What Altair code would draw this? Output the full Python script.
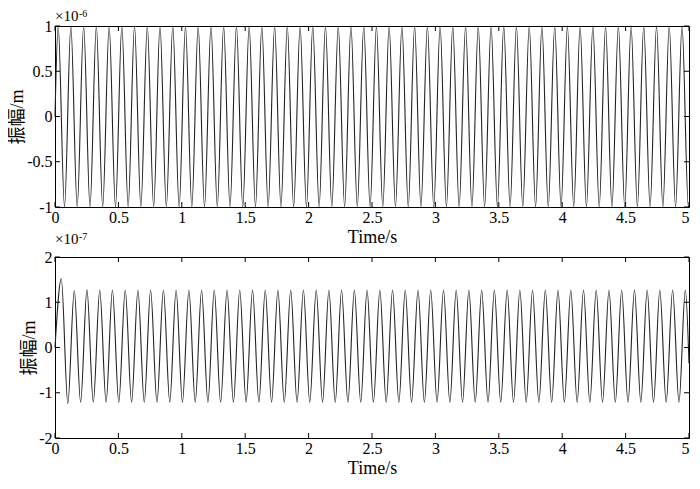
import altair as alt
import pandas as pd

# ---------------- data ----------------
x_ticks = [0, 0.5, 1, 1.5, 2, 2.5, 3, 3.5, 4, 4.5, 5]
top_y_ticks = [-1, -0.5, 0, 0.5, 1]
bot_y_ticks = [-2, -1, 0, 1, 2]
x_title = "Time/s"
y_title = "振幅/m"
top_exp = ["×10", "-6"]
bot_exp = ["×10", "-7"]

# top panel (units of 1e-6 m)
top_start = [0.0, 0.0]
top_end = [5.0, -0.99]
top_peak_t = [0.025, 0.125, 0.226, 0.326, 0.427, 0.527, 0.627, 0.728, 0.828, 0.929,
              1.029, 1.129, 1.230, 1.330, 1.431, 1.531, 1.631, 1.732, 1.832, 1.933,
              2.033, 2.133, 2.234, 2.334, 2.435, 2.535, 2.635, 2.736, 2.836, 2.937,
              3.037, 3.137, 3.238, 3.338, 3.439, 3.539, 3.639, 3.740, 3.840, 3.941,
              4.041, 4.141, 4.242, 4.342, 4.443, 4.543, 4.643, 4.744, 4.844, 4.945]
top_peak_v = [1.0, 1.0, 1.0, 1.0, 1.0, 1.0, 1.0, 1.0, 1.0, 1.0,
              1.0, 1.0, 1.0, 1.0, 1.0, 1.0, 1.0, 1.0, 1.0, 1.0,
              1.0, 1.0, 1.0, 1.0, 1.0, 1.0, 1.0, 1.0, 1.0, 1.0,
              1.0, 1.0, 1.0, 1.0, 1.0, 1.0, 1.0, 1.0, 1.0, 1.0,
              1.0, 1.0, 1.0, 1.0, 1.0, 1.0, 1.0, 1.0, 1.0, 1.0]
top_trough_t = [0.075, 0.175, 0.276, 0.376, 0.477, 0.577, 0.677, 0.778, 0.878, 0.979,
                1.079, 1.179, 1.280, 1.380, 1.481, 1.581, 1.681, 1.782, 1.882, 1.983,
                2.083, 2.183, 2.284, 2.384, 2.485, 2.585, 2.685, 2.786, 2.886, 2.987,
                3.087, 3.187, 3.288, 3.388, 3.489, 3.589, 3.689, 3.790, 3.890, 3.991,
                4.091, 4.191, 4.292, 4.392, 4.493, 4.593, 4.693, 4.794, 4.894, 4.995]
top_trough_v = [-1.0, -1.0, -1.0, -1.0, -1.0, -1.0, -1.0, -1.0, -1.0, -1.0,
                -1.0, -1.0, -1.0, -1.0, -1.0, -1.0, -1.0, -1.0, -1.0, -1.0,
                -1.0, -1.0, -1.0, -1.0, -1.0, -1.0, -1.0, -1.0, -1.0, -1.0,
                -1.0, -1.0, -1.0, -1.0, -1.0, -1.0, -1.0, -1.0, -1.0, -1.0,
                -1.0, -1.0, -1.0, -1.0, -1.0, -1.0, -1.0, -1.0, -1.0, -1.0]

# bottom panel (units of 1e-7 m)
bot_start = [0.0, 0.0]
bot_end = [5.0, -0.35]
bot_peak_t = [0.050, 0.152, 0.252, 0.353, 0.453, 0.554, 0.654, 0.754, 0.855, 0.955,
              1.056, 1.156, 1.256, 1.357, 1.457, 1.558, 1.658, 1.758, 1.859, 1.959,
              2.060, 2.160, 2.260, 2.361, 2.461, 2.562, 2.662, 2.762, 2.863, 2.963,
              3.064, 3.164, 3.264, 3.365, 3.465, 3.566, 3.666, 3.766, 3.867, 3.967,
              4.068, 4.168, 4.268, 4.369, 4.469, 4.570, 4.670, 4.770, 4.871, 4.971]
bot_peak_v = [1.52, 1.26, 1.28, 1.27, 1.27, 1.27, 1.27, 1.27, 1.27, 1.27,
              1.27, 1.27, 1.27, 1.27, 1.27, 1.27, 1.27, 1.27, 1.27, 1.27,
              1.27, 1.27, 1.27, 1.27, 1.27, 1.27, 1.27, 1.27, 1.27, 1.27,
              1.27, 1.27, 1.27, 1.27, 1.27, 1.27, 1.27, 1.27, 1.27, 1.27,
              1.27, 1.27, 1.27, 1.27, 1.27, 1.27, 1.27, 1.27, 1.27, 1.27]
bot_trough_t = [0.101, 0.202, 0.302, 0.403, 0.503, 0.604, 0.704, 0.804, 0.905, 1.005,
                1.106, 1.206, 1.306, 1.407, 1.507, 1.608, 1.708, 1.808, 1.909, 2.009,
                2.110, 2.210, 2.310, 2.411, 2.511, 2.612, 2.712, 2.812, 2.913, 3.013,
                3.114, 3.214, 3.314, 3.415, 3.515, 3.616, 3.716, 3.816, 3.917, 4.017,
                4.118, 4.218, 4.318, 4.419, 4.519, 4.620, 4.720, 4.820, 4.921]
bot_trough_v = [-1.24, -1.21, -1.21, -1.21, -1.21, -1.21, -1.21, -1.21, -1.21, -1.21,
                -1.21, -1.21, -1.21, -1.21, -1.21, -1.21, -1.21, -1.21, -1.21, -1.21,
                -1.21, -1.21, -1.21, -1.21, -1.21, -1.21, -1.21, -1.21, -1.21, -1.21,
                -1.21, -1.21, -1.21, -1.21, -1.21, -1.21, -1.21, -1.21, -1.21, -1.21,
                -1.21, -1.21, -1.21, -1.21, -1.21, -1.21, -1.21, -1.21, -1.21]

# ---------------- chart ----------------
W, H = 634, 181
FONT = "'Liberation Serif', 'Times New Roman', serif"
YFONT = "'Liberation Serif', 'Noto Sans CJK SC', serif"


def wave(start, pt, pv, tt, tv, end):
    pts = [tuple(start)] + list(zip(pt, pv)) + list(zip(tt, tv)) + [tuple(end)]
    pts.sort()
    return pd.DataFrame(pts, columns=["t", "v"])


def panel(df, yticks, exp, exp_base, sup_y, sup_baseline):
    xs = alt.Scale(domain=[x_ticks[0], x_ticks[-1]], nice=False, zero=False)
    ys = alt.Scale(domain=[yticks[0], yticks[-1]], nice=False, zero=False)
    common = dict(ticks=False, tickSize=0, domain=False, grid=False,
                  labelFont=FONT, labelFontSize=16, labelColor="black",
                  titleFontWeight="normal", titleColor="black", labelFlush=False)
    xa = alt.Axis(values=x_ticks, labelExpr="'' + datum.value", title=x_title,
                  labelPadding=2, titlePadding=3, titleFont=FONT, titleFontSize=18,
                  labelAlign={"condition": {"test": "datum.value == 5", "value": "right"},
                              "value": "center"},
                  **common)
    ya = alt.Axis(values=yticks, labelExpr="'' + datum.value", title=y_title,
                  labelPadding=3, titlePadding=0, titleFont=YFONT, titleFontSize=18,
                  **common)
    line = alt.Chart(df).mark_line(
        interpolate="monotone", color="#222222", strokeWidth=1.1
    ).encode(
        x=alt.X("t:Q", scale=xs, axis=xa),
        y=alt.Y("v:Q", scale=ys, axis=ya),
    )
    xt = pd.DataFrame({"t": x_ticks})
    yt = pd.DataFrame({"v": yticks})
    rule = dict(color="black", strokeWidth=1)
    tb = alt.Chart(xt).mark_rule(**rule).encode(
        x=alt.X("t:Q", scale=xs, axis=xa), y=alt.value(H), y2=alt.value(H - 5))
    tt = alt.Chart(xt).mark_rule(**rule).encode(
        x=alt.X("t:Q", scale=xs, axis=xa), y=alt.value(0), y2=alt.value(5))
    tl = alt.Chart(yt).mark_rule(**rule).encode(
        y=alt.Y("v:Q", scale=ys, axis=ya), x=alt.value(0), x2=alt.value(5))
    tr = alt.Chart(yt).mark_rule(**rule).encode(
        y=alt.Y("v:Q", scale=ys, axis=ya), x=alt.value(W), x2=alt.value(W - 5))
    e1 = alt.Chart(pd.DataFrame({"s": [exp[0]]})).mark_text(
        align="left", baseline="alphabetic", font=FONT, fontSize=15, color="black"
    ).encode(text="s:N", x=alt.value(0), y=alt.value(exp_base))
    e2 = alt.Chart(pd.DataFrame({"s": [exp[1]]})).mark_text(
        align="left", baseline=sup_baseline, font=FONT, fontSize=10, color="black"
    ).encode(text="s:N", x=alt.value(24), y=alt.value(sup_y))
    return alt.layer(line, tb, tt, tl, tr, e1, e2).properties(width=W, height=H)


top = panel(wave(top_start, top_peak_t, top_peak_v, top_trough_t, top_trough_v, top_end),
            top_y_ticks, top_exp, -5, -17, "top")
bot = panel(wave(bot_start, bot_peak_t, bot_peak_v, bot_trough_t, bot_trough_v, bot_end),
            bot_y_ticks, bot_exp, -13, -17, "alphabetic")

chart = alt.vconcat(top, bot, spacing=50, bounds="flush").properties(
    padding=0, background="white"
).configure_view(stroke="black", strokeWidth=1)

chart.save("out.html", embed_options={"renderer": "svg", "actions": False})
